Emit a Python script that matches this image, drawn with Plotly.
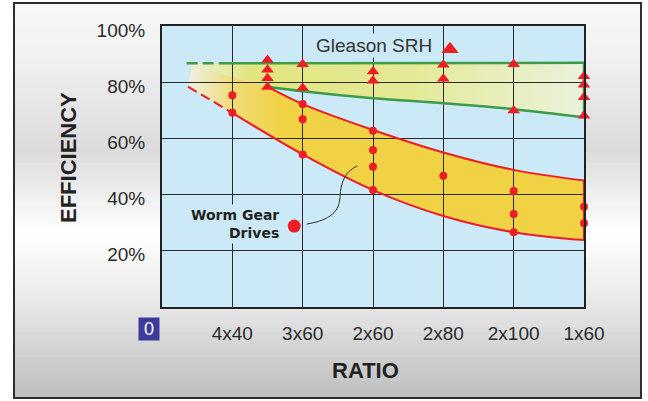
import plotly.graph_objects as go

# ---------------- data ----------------
ratio_pos = [1, 2, 3, 4, 5, 6]
ratio_labels = ["4x40", "3x60", "2x60", "2x80", "2x100", "1x60"]
eff_ticks = [20, 40, 60, 80, 100]
eff_labels = ["20%", "40%", "60%", "80%", "100%"]

# Worm gear drive measurements (red dots)
worm_x = [1, 1, 2, 2, 2, 3, 3, 3, 3, 4, 5, 5, 5, 6, 6]
worm_y = [75.4, 69.1, 72.2, 66.8, 54.3, 62.7, 55.9, 49.9, 41.6, 46.7, 41.3, 33.1, 26.6, 35.7, 29.8]

# Gleason SRH measurements (red triangles)
gleason_x = [1.5, 1.5, 1.5, 1.5, 2, 2, 3, 3, 4, 4, 5, 5, 6, 6, 6, 6]
gleason_y = [87.9, 84.4, 81.4, 78.3, 86.4, 77.9, 83.8, 80.5, 86.2, 81.2, 86.4, 69.9, 82.1, 79.1, 74.6, 68.1]

# Worm gear band boundaries (red)
worm_hi_x = [1.5, 2, 3, 4, 5, 6]
worm_hi_y = [78.4, 72.2, 63.0, 55.0, 48.8, 45.0]
worm_lo_x = [1, 2, 3, 4, 5, 6]
worm_lo_y = [69.1, 54.3, 41.6, 32.4, 26.6, 23.8]
worm_lo_dash_x = [0.37, 1]
worm_lo_dash_y = [78.4, 69.1]

# Gleason SRH band boundaries (green)
gl_top_dash_x = [0.35, 0.82]
gl_top_dash_y = [86.7, 86.7]
gl_top_x = [0.82, 6]
gl_top_y = [86.7, 86.9]
gl_lo_x = [1.5, 2, 3, 4, 5, 6]
gl_lo_y = [78.4, 76.8, 74.3, 72.5, 70.4, 67.5]

# left corner where the shaded regions begin
shade_left_x = 0.42
shade_split_y = 85.8

# ---------------- styling ----------------
FONT = "Liberation Sans, Arial, sans-serif"
RED = "#ee1c25"
GREEN = "#3c9c4a"
BLUE_BG = "#cbe9f6"
TXT = "#2a2a2a"

W, H = 648, 401
ML, MR, MT, MB = 162, 64, 26, 94
PW, PH = W - ML - MR, H - MT - MB


def px2paper(px, py):
    return (px - ML) / PW, (H - MB - py) / PH


fig = go.Figure()

# ---- fills (subplot x/y, drawn below the grid of x2/y2) ----
green_fill_x = [shade_left_x, gl_top_x[-1], gl_lo_x[-1]] + gl_lo_x[::-1] + [shade_left_x]
green_fill_y = [gl_top_y[0], gl_top_y[-1], gl_lo_y[-1]] + gl_lo_y[::-1] + [shade_split_y]
fig.add_trace(go.Scatter(
    x=green_fill_x, y=green_fill_y, mode="lines", fill="toself",
    line=dict(width=0), hoverinfo="skip", showlegend=False,
    fillgradient=dict(type="horizontal", start=shade_left_x, stop=6,
                      colorscale=[[0, "#eef0d8"], [0.15, "#e1e57e"], [0.55, "#e4e996"], [1, "#eaf2dc"]]),
    xaxis="x", yaxis="y"))

worm_fill_x = [shade_left_x] + worm_hi_x + worm_lo_x[::-1] + [worm_lo_dash_x[0]]
worm_fill_y = [shade_split_y] + worm_hi_y + worm_lo_y[::-1] + [worm_lo_dash_y[0]]
fig.add_trace(go.Scatter(
    x=worm_fill_x, y=worm_fill_y, mode="lines", fill="toself",
    line=dict(width=0), hoverinfo="skip", showlegend=False,
    fillgradient=dict(type="horizontal", start=shade_left_x, stop=1.7,
                      colorscale=[[0, "#eeeedc"], [0.45, "#f0dc78"], [1, "#f1d244"]]),
    xaxis="x", yaxis="y"))

# ---- lines (subplot x2/y2) ----
def line(x, y, color, width, dash="solid", shape="spline"):
    fig.add_trace(go.Scatter(x=x, y=y, mode="lines", line=dict(color=color, width=width, dash=dash, shape=shape),
                             hoverinfo="skip", showlegend=False, xaxis="x2", yaxis="y2", cliponaxis=False))

line(gl_top_dash_x, gl_top_dash_y, GREEN, 2.5, dash="11px,5px", shape="linear")
line(gl_top_x, gl_top_y, GREEN, 2.5, shape="linear")
line(gl_lo_x, gl_lo_y, GREEN, 2.5)
line([gl_top_x[-1], gl_lo_x[-1]], [gl_top_y[-1], gl_lo_y[-1]], GREEN, 2.5, shape="linear")
line(worm_lo_dash_x, worm_lo_dash_y, RED, 2, dash="10px,5px", shape="linear")
line(worm_lo_x, worm_lo_y, RED, 2)
line(worm_hi_x, worm_hi_y, RED, 2)
line([worm_hi_x[-1], worm_lo_x[-1]], [worm_hi_y[-1], worm_lo_y[-1]], RED, 2, shape="linear")

# ---- markers ----
fig.add_trace(go.Scatter(x=worm_x, y=worm_y, mode="markers", name="Worm Gear Drives",
                         marker=dict(color=RED, size=8, line=dict(width=0)),
                         showlegend=False, xaxis="x2", yaxis="y2", cliponaxis=False))
fig.add_trace(go.Scatter(x=gleason_x, y=gleason_y, mode="markers", name="Gleason SRH",
                         marker=dict(color=RED, size=11, symbol="triangle-up", line=dict(width=0)),
                         showlegend=False, xaxis="x2", yaxis="y2", cliponaxis=False))

# legend symbols (placed next to their labels)
LEG_TRI = (4.095, 91.7)
LEG_DOT = (1.88, 28.8)
fig.add_trace(go.Scatter(x=[LEG_TRI[0]], y=[LEG_TRI[1]], mode="markers",
                         marker=dict(color=RED, size=15, symbol="triangle-up"),
                         showlegend=False, hoverinfo="skip", xaxis="x2", yaxis="y2"))
fig.add_trace(go.Scatter(x=[LEG_DOT[0]], y=[LEG_DOT[1]], mode="markers",
                         marker=dict(color=RED, size=13),
                         showlegend=False, hoverinfo="skip", xaxis="x2", yaxis="y2"))

# ---------------- background / frame ----------------
shapes = []
stops = [(3, 248), (60, 240), (150, 219), (235, 255), (300, 233), (398, 190)]


def gray_at(py):
    for (a, ga), (b, gb) in zip(stops[:-1], stops[1:]):
        if a <= py <= b:
            t = (py - a) / (b - a)
            return round(ga + (gb - ga) * t)
    return stops[-1][1]


top, bot, left, right = 3, 398, 14, 641
step = 5
py = top
while py < bot:
    p2 = min(py + step, bot)
    g = gray_at((py + p2) / 2)
    x0, y0 = px2paper(left, p2 + 0.5)
    x1, y1 = px2paper(right, py - 0.5 if py > top else py)
    shapes.append(dict(type="rect", xref="paper", yref="paper", x0=x0, x1=x1, y0=y0, y1=y1,
                       line=dict(width=0), fillcolor=f"rgb({g},{g},{g})", layer="below"))
    py = p2

fx0, fy0 = px2paper(left, bot)
fx1, fy1 = px2paper(right, top)
shapes.append(dict(type="rect", xref="paper", yref="paper", x0=fx0, x1=fx1, y0=fy0, y1=fy1,
                   line=dict(width=2, color="#2e2e2e"), fillcolor="rgba(0,0,0,0)", layer="below"))

# plot area background
shapes.append(dict(type="rect", xref="x", yref="y", x0=0, x1=6, y0=0, y1=100,
                   line=dict(width=0), fillcolor=BLUE_BG, layer="below"))

# connector curve from the Worm Gear legend to the band
shapes.append(dict(type="path", xref="x2", yref="y2",
                   path="M 2.057,29.5 C 2.40,31.0 2.52,34 2.53,39 C 2.54,45 2.62,48.5 2.78,50.2",
                   line=dict(color="#333333", width=1), layer="above"))

# ---------------- annotations ----------------
ann = []
ann.append(dict(xref="x2", yref="y2", x=3.02, y=93.2, text="Gleason SRH", showarrow=False,
                xanchor="center", yanchor="middle",
                font=dict(family=FONT, size=19, color="#333333"), bgcolor=BLUE_BG, borderpad=1))
ann.append(dict(xref="x2", yref="y2", x=1.70, y=29.5, text="<b>Worm Gear<br>Drives</b>", showarrow=False,
                xanchor="right", yanchor="middle", align="right",
                font=dict(family="DejaVu Sans, sans-serif", size=14, color="#231f20"),
                bgcolor=BLUE_BG, borderpad=2))
rx, ry = px2paper(365, 370)
ann.append(dict(xref="paper", yref="paper", x=rx, y=ry, text="<b>RATIO</b>", showarrow=False,
                xanchor="center", yanchor="middle",
                font=dict(family=FONT, size=22, color="#222222")))
ex, ey = px2paper(68, 158)
ann.append(dict(xref="paper", yref="paper", x=ex, y=ey, text="<b>EFFICIENCY</b>", showarrow=False,
                xanchor="center", yanchor="middle",
                textangle=-90, font=dict(family=FONT, size=22, color="#222222")))
zx, zy = px2paper(149, 328.5)
ann.append(dict(xref="paper", yref="paper", x=zx, y=zy, text="0", showarrow=False,
                xanchor="center", yanchor="middle",
                width=18, height=20, bgcolor="#3b3b9b",
                font=dict(family=FONT, size=18, color="white")))

GRID = "#2a2a2a"
fig.update_layout(
    width=W, height=H,
    margin=dict(l=ML, r=MR, t=MT, b=MB),
    paper_bgcolor="white",
    plot_bgcolor="rgba(0,0,0,0)",
    shapes=shapes,
    annotations=ann,
    showlegend=False,
    xaxis=dict(domain=[0, 1], range=[0, 6], visible=False, fixedrange=True),
    yaxis=dict(domain=[0, 1], range=[0, 100], visible=False, fixedrange=True),
    xaxis2=dict(domain=[0, 1], range=[0, 6], anchor="y2",
                tickvals=ratio_pos, ticktext=ratio_labels,
                showgrid=True, gridcolor=GRID, gridwidth=1,
                showline=True, linecolor="#222222", linewidth=2, mirror=True,
                ticks="outside", ticklen=0, ticklabelstandoff=8,
                tickfont=dict(family=FONT, size=19, color=TXT), zeroline=False),
    yaxis2=dict(domain=[0, 1], range=[0, 100], anchor="x2",
                tickvals=eff_ticks, ticktext=eff_labels,
                showgrid=True, gridcolor=GRID, gridwidth=1,
                showline=True, linecolor="#222222", linewidth=2, mirror=True,
                ticks="outside", ticklen=0, ticklabelstandoff=11, ticklabelshift=4,
                tickfont=dict(family=FONT, size=19, color=TXT), zeroline=False),
)

fig.write_html("out.html", config={"displayModeBar": False},
               post_script="document.body.style.margin='0';")
